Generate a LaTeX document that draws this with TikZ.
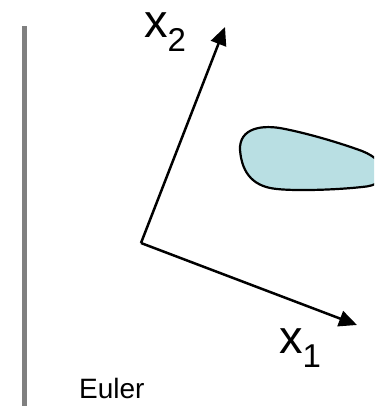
\documentclass[tikz,border=0pt]{standalone}
\usepackage{fontspec}
\setmainfont{Liberation Sans}
\usetikzlibrary{arrows.meta}
\definecolor{blobfill}{HTML}{B9DFE3}
\definecolor{bargray}{HTML}{808080}
\begin{document}
\begin{tikzpicture}[x=1pt,y=-1pt,
  axis/.style={line width=2.5pt,-{Triangle[length=18pt,width=16pt]}},
  lbl/.style={inner sep=0pt,anchor=base west}]
\useasboundingbox (0,0) rectangle (374,406);
\clip (0,0) rectangle (374,406);
% gray bar
\fill[bargray] (22,26) rectangle (27,406);
% blob
\draw[fill=blobfill,line width=2.2pt]
  (240,150) .. controls (239,128) and (262,124) .. (285,129)
  .. controls (310,134) and (340,143) .. (362,151)
  .. controls (390,162) and (392,185) .. (362,187)
  .. controls (335,190) and (295,191) .. (277,189)
  .. controls (255,187) and (242,175) .. (240,150) -- cycle;
% axes
\coordinate (O) at (141,243);
\coordinate (T1) at (357,325);
\coordinate (T2) at (225,27);
\draw[axis] (O) -- (T1);
\draw[axis] (O) -- (T2);
% labels
\node[lbl] (L2) at (144,38) {\fontsize{47}{47}\selectfont x\raisebox{-14pt}{\fontsize{33}{33}\selectfont 2}};
\node[lbl] (L1) at (279,353) {\fontsize{47}{47}\selectfont x\raisebox{-14pt}{\fontsize{33}{33}\selectfont 1}};
\node[lbl] (E) at (79,398) {\fontsize{28}{28}\selectfont Euler};
\end{tikzpicture}
\end{document}
